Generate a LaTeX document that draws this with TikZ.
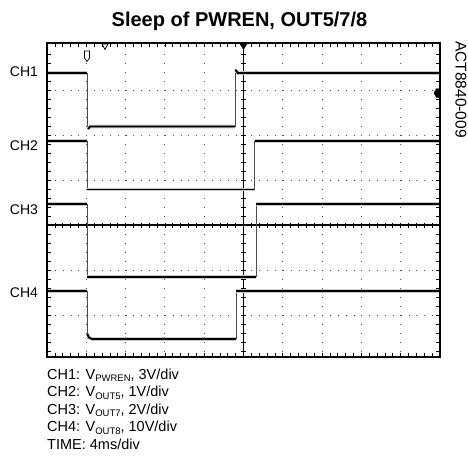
\documentclass[tikz,border=0pt]{standalone}
\usepackage{fontspec}
\setmainfont{Liberation Sans}
\usepackage{xcolor}
\usepackage{tikz}
\newcommand{\chsub}[1]{\raisebox{-0.3ex}{\fontsize{9.5}{9.5}\selectfont #1}}

\begin{document}
\begin{tikzpicture}[x=1pt,y=-1pt,
  trace/.style={line width=1.8pt,preaction={draw,gray!45,line width=3.6pt}},
  slope/.style={line width=0.7pt,black!70},
  griddot/.style={black!70,line width=1pt,dash pattern=on 1pt off 6.86pt},
  griddotv/.style={black!70,line width=1pt,dash pattern=on 1pt off 8pt},
  tick/.style={line width=0.7pt},
  chlabel/.style={font=\fontsize{14}{14}\selectfont,anchor=base,inner sep=0pt},
  notes/.style={font=\fontsize{14.5}{14.5}\selectfont,anchor=base west,inner sep=0pt}]

\useasboundingbox (0,0) rectangle (468,455);

\node[font=\bfseries\fontsize{20}{20}\selectfont,anchor=base,inner sep=0pt] (title) at (239.5,26.7) {Sleep of PWREN, OUT5/7/8};
\node[rotate=-90,anchor=base west,font=\fontsize{15.5}{15.5}\selectfont,inner sep=0pt] (code) at (455.5,41) {ACT8840-009};

\foreach \gx in {86.3,125.6,164.9,204.2,282.8,322.1,361.4,400.7}
  \draw[griddotv] (\gx,45) -- (\gx,356);
\foreach \gy in {90,135,180,270,315}
  \draw[griddot] (47,\gy) -- (440,\gy);

\draw[line width=1.1pt] (47,225) -- (440,225);
\draw[line width=1.1pt] (243.5,43) -- (243.5,357);
\foreach \t in {1,...,49} {
  \draw[tick] ({47+7.86*\t},222.5) -- ++(0,5);
  \draw[tick] ({47+7.86*\t},43) -- ++(0,4);
  \draw[tick] ({47+7.86*\t},357) -- ++(0,-4);
}
\foreach \t in {1,...,34} {
  \draw[tick] (241,{45+9*\t}) -- ++(5,0);
  \draw[tick] (47,{45+9*\t}) -- ++(4,0);
  \draw[tick] (440,{45+9*\t}) -- ++(-4,0);
}

\draw[trace] (47,73) -- (87,73);
\draw[slope] (87,73) -- (87,128);
\draw[trace] (88,129) -- (90,126.5) -- (235,126.5);
\draw[slope] (235,126.5) -- (235,69);
\draw[trace] (235.5,70) -- (238,73) -- (440,73);

\draw[trace] (47,141) -- (87,141);
\draw[slope] (87,141) -- (87,189.5);
\draw[trace] (87,189.5) -- (254.5,189.5);
\draw[slope] (254.5,189.5) -- (254.5,141);
\draw[trace] (254.5,141) -- (440,141);

\draw[trace] (47,204) -- (87,204);
\draw[slope] (87,204) -- (87,277);
\draw[trace] (87,277) -- (256,277);
\draw[slope] (256,277) -- (256,204);
\draw[trace] (256,204) -- (440,204);

\draw[trace] (47,291) -- (87,291);
\draw[slope] (87,291) -- (87,335);
\draw[trace] (87.5,334) to[out=-90,in=180] (92,339) -- (236,339);
\draw[slope] (236,339) -- (236,291);
\draw[trace] (236,291) -- (440,291);

\draw[line width=1.8pt] (47,43) rectangle (440,357);

\draw[fill=white,line width=0.7pt] (84.5,51) -- (89.5,51) -- (89.5,58) -- (87,61.5) -- (84.5,58) -- cycle;
\draw[fill=white,line width=0.7pt] (102,44) -- (108,44) -- (105,49.5) -- cycle;
\draw[fill=black] (239.5,43) -- (247.5,43) -- (243.5,49.5) -- cycle;
\draw[fill=black] (440,88.5) -- (436.5,88.5) -- (434,93) -- (436.5,97.5) -- (440,97.5) -- cycle;

\node[chlabel] (ch1) at (24,76.5) {CH1};
\node[chlabel] (ch2) at (24,150) {CH2};
\node[chlabel] (ch3) at (24,214.5) {CH3};
\node[chlabel] (ch4) at (24,297.5) {CH4};

\node[notes] (n1) at (47,379.5) {CH1: V\chsub{PWREN}, 3V/div};
\node[notes] (n2) at (47,396.9) {CH2: V\chsub{OUT5}, 1V/div};
\node[notes] (n3) at (47,414.3) {CH3: V\chsub{OUT7}, 2V/div};
\node[notes] (n4) at (47,431.7) {CH4: V\chsub{OUT8}, 10V/div};
\node[notes] (n5) at (47,449.1) {TIME: 4ms/div};

\end{tikzpicture}
\end{document}
